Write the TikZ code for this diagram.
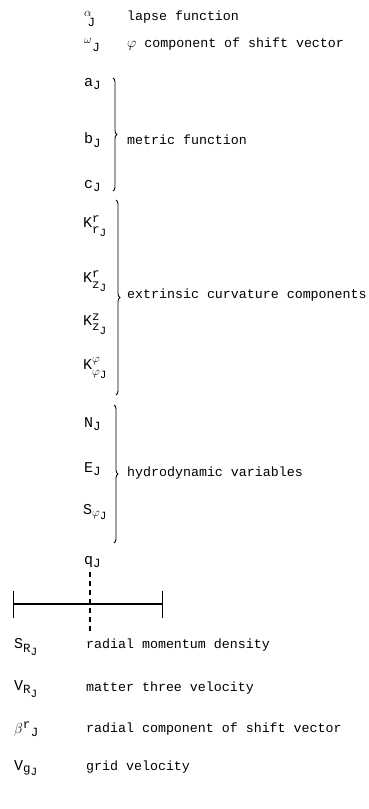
\documentclass[tikz,border=0pt]{standalone}
\usepackage{fontspec}
\setmonofont{Liberation Mono}
\usetikzlibrary{arrows.meta, positioning, decorations.pathreplacing}
\DeclareMathSizes{15}{15}{12.5}{11}
\newcommand{\tv}[1]{\mathtt{#1}}
\tikzset{
  sym/.style={anchor=west, inner sep=0pt, font=\fontsize{15}{17}\selectfont},
  desc/.style={anchor=west, inner sep=0pt, font=\ttfamily\fontsize{13.3}{15}\selectfont},
  curly/.style={decorate, decoration={brace, amplitude=4pt}, line width=0.9pt},
  bar/.style={{Bar[width=27pt]}-{Bar[width=27pt]}, line width=1.4pt},
  cut/.style={dash pattern=on 5pt off 4pt, line width=1.1pt}
}
\begin{document}
\begin{tikzpicture}[x=1pt, y=-1pt]
        \useasboundingbox (0,0) rectangle (369,809);
        \node[sym] (alf) at (84,19) {$^{\alpha}_{\;\tv{J}}$};
        \node[desc] (alfd) at (127,17) {lapse function};
        \node[sym] (om) at (84,45) {$^{\omega}{}_{\tv{J}}$};
        \node[desc] (omd) at (127,44) {$\varphi$ component of shift vector};
        \node[sym] (aJ) at (84,84) {$\tv{a}_{\tv{J}}$};
        \node[sym] (bJ) at (84,140) {$\tv{b}_{\tv{J}}$};
        \node[sym] (cJ) at (84,186) {$\tv{c}_{\tv{J}}$};
        \node[sym] (Krr) at (83,226) {$\tv{K}^{\tv{r}}_{\mathstrut\tv{r}_{\tv{J}}}$};
        \node[sym] (Krz) at (83,281) {$\tv{K}^{\tv{r}}_{\mathstrut\tv{z}_{\tv{J}}}$};
        \node[sym] (Kzz) at (83,324) {$\tv{K}^{\tv{z}}_{\mathstrut\tv{z}_{\tv{J}}}$};
        \node[sym] (Kpp) at (83,368) {$\tv{K}^{\varphi}_{\mathstrut\varphi_{\tv{J}}}$};
        \node[sym] (NJ) at (84,424) {$\tv{N}_{\tv{J}}$};
        \node[sym] (EJ) at (84,469) {$\tv{E}_{\tv{J}}$};
        \node[sym] (SpJ) at (83,512) {$\tv{S}_{\varphi_{\tv{J}}}$};
        \node[sym] (qJ) at (84,562) {$\tv{q}_{\tv{J}}$};
        \coordinate (mtop) at (113,78);
        \coordinate (mbot) at (113,191);
        \coordinate (ktop) at (116,200);
        \coordinate (kbot) at (116,395);
        \coordinate (htop) at (114,405);
        \coordinate (hbot) at (114,543);
        \draw[curly] (mtop) -- (mbot);
        \draw[curly] (ktop) -- (kbot);
        \draw[curly] (htop) -- (hbot);
        \node[desc] (metric) at (127,140) {metric function};
        \node[desc] (extr) at (127,295) {extrinsic curvature components};
        \node[desc] (hydro) at (127,473) {hydrodynamic variables};
        \coordinate (lft) at (13,604);
        \coordinate (rgt) at (163,604);
        \coordinate (qend) at (90,634);
        \draw[bar] (lft) -- (rgt);
        \draw[cut] (qJ.south -| qend) ++(0,4) coordinate (qtop) -- (qend);
        \node[sym] (SR) at (14,647) {$\tv{S}_{\tv{R}_{\tv{J}}}$};
        \node[desc] (SRd) at (86,645) {radial momentum density};
        \node[sym] (VR) at (14,689) {$\tv{V}_{\tv{R}_{\tv{J}}}$};
        \node[desc] (VRd) at (86,688) {matter three velocity};
        \node[sym] (br) at (14,729) {$\beta^{\tv{r}}{}_{\tv{J}}$};
        \node[desc] (brd) at (86,729) {radial component of shift vector};
        \node[sym] (Vg) at (14,768) {$\tv{V}_{\tv{g}_{\tv{J}}}$};
        \node[desc] (Vgd) at (86,767) {grid velocity};
      \end{tikzpicture}
\end{document}
